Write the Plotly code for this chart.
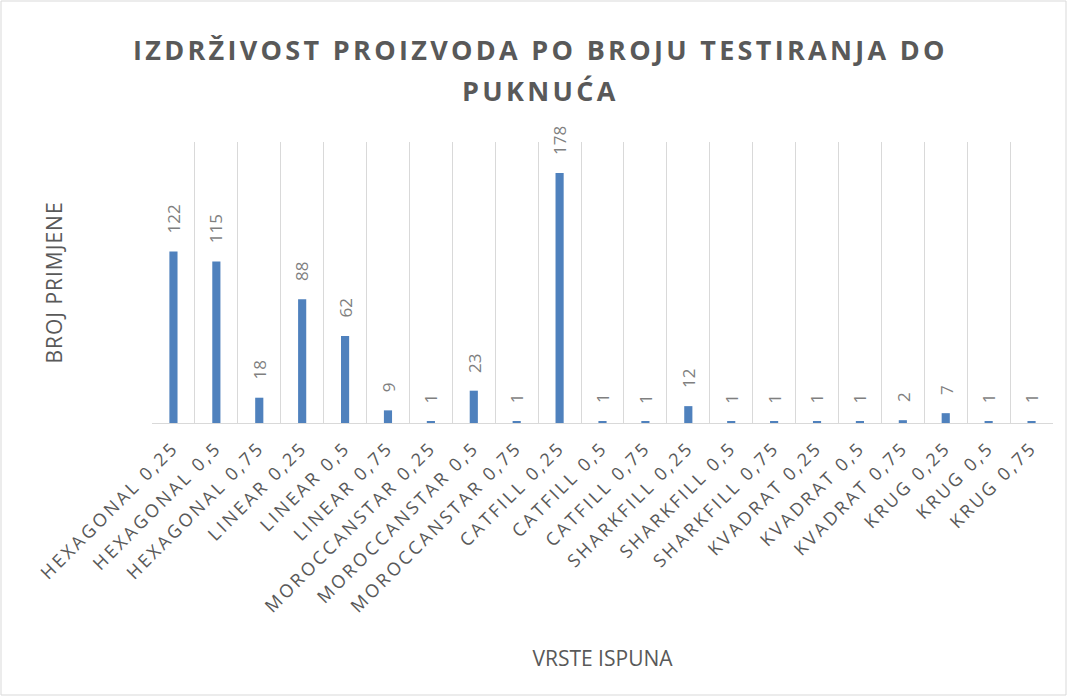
import plotly.graph_objects as go

# Infill types and how many test cycles each survived before cracking
categories = [
    "HEXAGONAL 0,25", "HEXAGONAL 0,5", "HEXAGONAL 0,75",
    "LINEAR 0,25", "LINEAR 0,5", "LINEAR 0,75",
    "MOROCCANSTAR 0,25", "MOROCCANSTAR 0,5", "MOROCCANSTAR 0,75",
    "CATFILL 0,25", "CATFILL 0,5", "CATFILL 0,75",
    "SHARKFILL 0,25", "SHARKFILL 0,5", "SHARKFILL 0,75",
    "KVADRAT 0,25", "KVADRAT 0,5", "KVADRAT 0,75",
    "KRUG 0,25", "KRUG 0,5", "KRUG 0,75",
]
values = [122, 115, 18, 88, 62, 9, 1, 23, 1, 178, 1, 1, 12, 1, 1, 1, 1, 2, 7, 1, 1]

title_text = "IZDRŽIVOST PROIZVODA PO BROJU TESTIRANJA DO<br>PUKNUĆA"
x_title = "VRSTE ISPUNA"
y_title = "BROJ PRIMJENE"

W, H = 1068, 697
ML, MR, MT, MB = 152, 15, 142, 274

TEXT = "#595959"
GRID = "#d9d9d9"
BAR = "#4f81bd"
FONT = "Open Sans, Calibri, sans-serif"

fig = go.Figure()
fig.add_trace(go.Bar(
    x=categories,
    y=values,
    marker=dict(color=BAR, line=dict(width=0)),
    width=0.19,
    hoverinfo="x+y",
))

# value labels, rotated and sitting just above each bar
for c, v in zip(categories, values):
    fig.add_annotation(
        x=c, y=v, text=str(v), textangle=-90,
        showarrow=False, yanchor="bottom", xanchor="center", yshift=16,
        font=dict(family=FONT, size=17, color="#7f7f7f"),
    )

# thin frame around the whole chart area
pw = W - ML - MR
ph = H - MT - MB
fig.add_shape(
    type="rect", xref="paper", yref="paper",
    x0=-(ML - 1) / pw, x1=1 + (MR - 2) / pw,
    y0=-(MB - 2) / ph, y1=1 + (MT - 1) / ph,
    line=dict(color=GRID, width=1), fillcolor="rgba(0,0,0,0)", layer="below",
)

fig.update_layout(
    width=W, height=H,
    margin=dict(l=ML, r=MR, t=MT, b=MB),
    paper_bgcolor="white", plot_bgcolor="white",
    showlegend=False,
    title=dict(
        text=title_text, x=0.506, xref="container", xanchor="center",
        y=1 - 60 / H, yref="container", yanchor="top",
        font=dict(family=FONT, size=27, color=TEXT, weight="bold"),
    ),
    xaxis=dict(
        type="category", tickson="boundaries",
        showgrid=True, gridcolor=GRID, gridwidth=1,
        showline=True, linecolor=GRID, linewidth=1,
        ticks="", tickangle=-45, ticklabelstandoff=6,
        tickfont=dict(family=FONT, size=18, color=TEXT),
        title=dict(text=x_title, font=dict(family=FONT, size=21, color=TEXT), standoff=68),
        automargin=False,
    ),
    yaxis=dict(
        range=[0, 200], showgrid=False, zeroline=False,
        showticklabels=False, ticks="",
        title=dict(text=y_title, font=dict(family=FONT, size=21, color=TEXT), standoff=82),
        automargin=False,
    ),
)

# letter spacing for the title, category labels and axis titles
post = """
var css = document.createElement('style');
css.textContent = '.gtitle{letter-spacing:3.3px} .xtick text{letter-spacing:2.8px} .ytitle{letter-spacing:1px}';
document.head.appendChild(css);
var gd = document.getElementsByClassName('plotly-graph-div')[0];
function lineGap(){
  gd.querySelectorAll('.gtitle tspan.line').forEach(function(t, i){ if (i > 0) t.setAttribute('dy', '1.5em'); });
}
lineGap();
gd.on('plotly_afterplot', lineGap);
"""

fig.write_html("out.html", post_script=post)
